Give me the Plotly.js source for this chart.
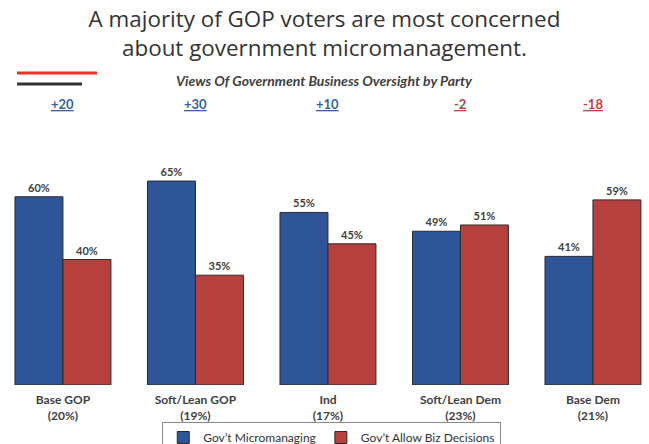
<!DOCTYPE html>
<html>
<head>
<meta charset="utf-8">
<script src="https://cdn.plot.ly/plotly-3.0.1.min.js"></script>
<style>html,body{margin:0;padding:0;background:#fff;}#chart{width:649px;height:444px;}</style>
</head>
<body>
<div id="chart"></div>
<script>
var categories = ["Base GOP<br>(20%)", "Soft/Lean GOP<br>(19%)", "Ind<br>(17%)", "Soft/Lean Dem<br>(23%)", "Base Dem<br>(21%)"];
var micromanaging = [60, 65, 55, 49, 41];
var allowBiz = [40, 35, 45, 51, 59];
var diffLabels = ["+20", "+30", "+10", "-2", "-18"];
var seriesNames = ["Gov’t Micromanaging", "Gov’t Allow Biz Decisions"];

var blue = "#2E5597", red = "#B5403E";
var labelFont = {family: "Lato, 'Open Sans', sans-serif", size: 11, color: "#404040", weight: "bold"};

var traces = [
  {type: "bar", name: seriesNames[0], x: categories, y: micromanaging,
   marker: {color: blue, line: {color: "#2b2b2b", width: 1}},
   text: micromanaging.map(function(v){return v + "%";}), textposition: "outside",
   textfont: labelFont, cliponaxis: false, hoverinfo: "none"},
  {type: "bar", name: seriesNames[1], x: categories, y: allowBiz,
   marker: {color: red, line: {color: "#2b2b2b", width: 1}},
   text: allowBiz.map(function(v){return v + "%";}), textposition: "outside",
   textfont: labelFont, cliponaxis: false, hoverinfo: "none"}
];

function py(pix){ return (385 - pix) / 251; }

var annotations = diffLabels.map(function(t, i){
  var pos = t.charAt(0) === "+";
  return {x: categories[i], xref: "x", y: py(104), yref: "paper", yanchor: "middle",
    text: "<u>" + t + "</u>", showarrow: false,
    font: {family: "Lato, sans-serif", size: 13, color: pos ? "#3A5FA8" : "#C0413F", weight: "bold"}};
});
annotations.push({x: 0.5, xref: "paper", y: py(80), yref: "paper", yanchor: "middle",
  text: "<i>Views Of Government Business Oversight by Party</i>", showarrow: false,
  font: {family: "Lato, sans-serif", size: 14, color: "#404040", weight: "bold"}});

var layout = {
  width: 649, height: 444,
  margin: {l: 0, r: 0, t: 134, b: 59},
  paper_bgcolor: "#fff", plot_bgcolor: "#fff",
  title: {text: "A majority of GOP voters are most concerned<br>about government micromanagement.",
    x: 0.5, xanchor: "center", y: 1 - 27/444, yanchor: "middle",
    font: {family: "'Open Sans', sans-serif", size: 22.4, color: "#333333"}},
  barmode: "group", bargap: 0.276, bargroupgap: 0,
  xaxis: {range: [-0.475, 4.423], showgrid: false, zeroline: false, showline: false, ticks: "",
    ticklabelstandoff: 6,
    tickfont: {family: "Lato, sans-serif", size: 12, color: "#404040", weight: "bold"}, fixedrange: true},
  yaxis: {range: [0, 80], visible: false, fixedrange: true},
  showlegend: true,
  legend: {orientation: "h", x: 0.25, xanchor: "left", yref: "container", y: 1 - 422/444, yanchor: "top",
    bordercolor: "#888", borderwidth: 1, bgcolor: "#fff",
    font: {family: "Lato, sans-serif", size: 12, color: "#333"}, traceorder: "normal"},
  shapes: [
    {type: "line", xref: "paper", yref: "paper", x0: 17/649, x1: 97/649, y0: py(73), y1: py(73),
     line: {color: "#E8332A", width: 3}},
    {type: "line", xref: "paper", yref: "paper", x0: 17/649, x1: 82/649, y0: py(84), y1: py(84),
     line: {color: "#333333", width: 3}}
  ],
  annotations: annotations
};

Plotly.newPlot("chart", traces, layout, {displayModeBar: false, staticPlot: true});
</script>
</body>
</html>
